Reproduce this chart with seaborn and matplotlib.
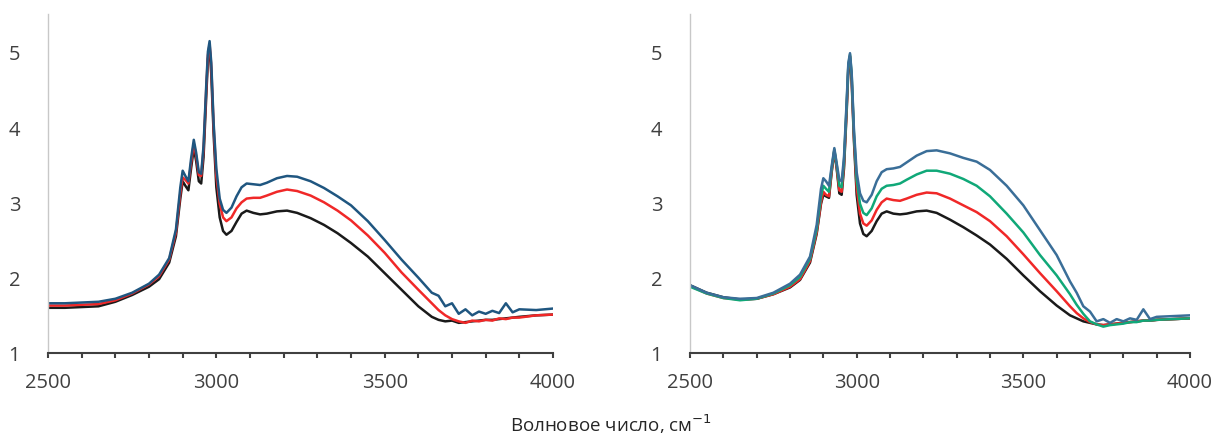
import numpy as np
import pandas as pd
import matplotlib
matplotlib.use("Agg")
import matplotlib.pyplot as plt
from matplotlib.ticker import MultipleLocator
import seaborn as sns

wavenumber = [2500, 2550, 2600, 2650, 2700, 2750, 2800, 2830, 2860, 2880, 2893, 2900, 2908, 2917,
              2925, 2933, 2940, 2948, 2955, 2962, 2970, 2975, 2980, 2985, 2992, 3000, 3010, 3020,
              3030, 3045, 3060, 3075, 3090, 3110, 3130, 3150, 3180, 3210, 3240, 3280, 3320, 3360,
              3400, 3450, 3500, 3550, 3600, 3640, 3660, 3680, 3700, 3720, 3740, 3760, 3780, 3800,
              3820, 3840, 3860, 3880, 3900, 3950, 4000]

left_black = [1.60, 1.60, 1.61, 1.62, 1.68, 1.77, 1.88, 1.98, 2.20, 2.55, 3.05, 3.28, 3.22, 3.16,
              3.45, 3.72, 3.55, 3.28, 3.25, 3.60, 4.40, 4.90, 5.05, 4.70, 3.90, 3.20, 2.80, 2.62,
              2.57, 2.62, 2.74, 2.85, 2.89, 2.86, 2.84, 2.85, 2.88, 2.89, 2.86, 2.79, 2.70, 2.59,
              2.46, 2.28, 2.06, 1.84, 1.62, 1.48, 1.44, 1.42, 1.43, 1.40, 1.41, 1.42, 1.43, 1.44,
              1.44, 1.45, 1.46, 1.47, 1.48, 1.50, 1.51]
left_red = [1.63, 1.63, 1.64, 1.65, 1.70, 1.79, 1.91, 2.02, 2.24, 2.60, 3.12, 3.33, 3.30, 3.25,
            3.52, 3.78, 3.62, 3.36, 3.35, 3.70, 4.50, 4.95, 5.10, 4.80, 4.00, 3.35, 2.98, 2.80,
            2.75, 2.80, 2.92, 3.00, 3.05, 3.06, 3.06, 3.09, 3.14, 3.17, 3.15, 3.09, 3.00, 2.89,
            2.76, 2.56, 2.33, 2.07, 1.84, 1.66, 1.57, 1.50, 1.45, 1.42, 1.40, 1.43, 1.42, 1.44,
            1.43, 1.46, 1.45, 1.47, 1.47, 1.50, 1.51]
left_blue = [1.66, 1.66, 1.67, 1.68, 1.72, 1.80, 1.92, 2.04, 2.26, 2.64, 3.20, 3.42, 3.35, 3.28,
             3.58, 3.83, 3.66, 3.40, 3.38, 3.75, 4.55, 5.00, 5.14, 4.85, 4.05, 3.45, 3.05, 2.90,
             2.86, 2.93, 3.08, 3.20, 3.25, 3.24, 3.23, 3.26, 3.32, 3.35, 3.34, 3.28, 3.19, 3.08,
             2.96, 2.75, 2.50, 2.24, 2.00, 1.80, 1.76, 1.62, 1.66, 1.52, 1.58, 1.50, 1.55, 1.52,
             1.56, 1.53, 1.66, 1.54, 1.58, 1.57, 1.59]

right_black = [1.90, 1.80, 1.74, 1.71, 1.72, 1.78, 1.87, 1.97, 2.20, 2.58, 2.98, 3.10, 3.08, 3.06,
               3.40, 3.68, 3.45, 3.12, 3.10, 3.45, 4.20, 4.75, 4.92, 4.60, 3.80, 3.10, 2.72, 2.58,
               2.55, 2.62, 2.75, 2.85, 2.88, 2.85, 2.84, 2.85, 2.88, 2.89, 2.86, 2.77, 2.67, 2.56,
               2.44, 2.25, 2.03, 1.82, 1.63, 1.50, 1.46, 1.42, 1.40, 1.38, 1.37, 1.38, 1.39, 1.40,
               1.41, 1.42, 1.43, 1.43, 1.44, 1.45, 1.46]
right_red = [1.89, 1.79, 1.73, 1.71, 1.72, 1.78, 1.88, 1.98, 2.22, 2.60, 3.00, 3.14, 3.10, 3.08,
             3.42, 3.69, 3.47, 3.16, 3.14, 3.50, 4.25, 4.80, 4.94, 4.65, 3.85, 3.20, 2.85, 2.72,
             2.69, 2.76, 2.90, 3.00, 3.05, 3.03, 3.02, 3.05, 3.10, 3.13, 3.12, 3.05, 2.96, 2.87,
             2.75, 2.55, 2.31, 2.06, 1.82, 1.62, 1.53, 1.46, 1.41, 1.38, 1.37, 1.38, 1.39, 1.40,
             1.41, 1.42, 1.43, 1.43, 1.44, 1.45, 1.46]
right_green = [1.88, 1.79, 1.73, 1.70, 1.72, 1.79, 1.90, 2.01, 2.25, 2.64, 3.08, 3.22, 3.18, 3.14,
               3.45, 3.70, 3.50, 3.22, 3.20, 3.55, 4.30, 4.82, 4.96, 4.70, 3.90, 3.30, 2.98, 2.86,
               2.83, 2.92, 3.08, 3.18, 3.22, 3.23, 3.25, 3.30, 3.37, 3.42, 3.42, 3.38, 3.31, 3.22,
               3.08, 2.85, 2.60, 2.30, 2.03, 1.78, 1.64, 1.52, 1.42, 1.38, 1.35, 1.37, 1.38, 1.39,
               1.41, 1.41, 1.43, 1.43, 1.44, 1.45, 1.46]
right_blue = [1.90, 1.80, 1.74, 1.72, 1.73, 1.80, 1.92, 2.04, 2.28, 2.70, 3.18, 3.32, 3.28, 3.22,
              3.48, 3.72, 3.52, 3.30, 3.28, 3.60, 4.35, 4.85, 4.98, 4.72, 3.95, 3.40, 3.12, 3.02,
              3.00, 3.10, 3.28, 3.40, 3.44, 3.45, 3.47, 3.53, 3.62, 3.68, 3.69, 3.65, 3.59, 3.54,
              3.43, 3.22, 2.96, 2.63, 2.30, 1.95, 1.80, 1.62, 1.55, 1.42, 1.45, 1.40, 1.45, 1.42,
              1.46, 1.44, 1.58, 1.45, 1.48, 1.49, 1.50]

x_ticks = [2500, 3000, 3500, 4000]
y_ticks = [1, 2, 3, 4, 5]
x_label = "Волновое число, см$^{-1}$"

sns.set_style("white")
plt.rcParams["font.family"] = ["Open Sans", "DejaVu Sans"]

W, H = 1222, 439
fig = plt.figure(figsize=(W / 100, H / 100), dpi=100)
axL = fig.add_axes([48 / W, (H - 354) / H, 505 / W, (354 - 15) / H])
axR = fig.add_axes([690 / W, (H - 354) / H, 500 / W, (354 - 15) / H])

panels = [
    (axL, [(left_black, "#1a1a1a"), (left_red, "#f02828"), (left_blue, "#1f5680")]),
    (axR, [(right_black, "#1a1a1a"), (right_red, "#f02828"), (right_green, "#10a878"),
           (right_blue, "#3a6e98")]),
]

for ax, series in panels:
    for vals, col in series:
        df = pd.DataFrame({"x": wavenumber, "y": vals})
        sns.lineplot(data=df, x="x", y="y", ax=ax, color=col, linewidth=1.8,
                     estimator=None, sort=False)
    ax.set_xlim(2500, 4000)
    ax.set_ylim(1, 5.5)
    ax.set_xticks(x_ticks)
    ax.set_yticks(y_ticks)
    ax.xaxis.set_minor_locator(MultipleLocator(100))
    ax.set_xlabel("")
    ax.set_ylabel("")
    for s in ["top", "right"]:
        ax.spines[s].set_visible(False)
    ax.spines["left"].set_color("#c8c8c8")
    ax.spines["left"].set_linewidth(1.0)
    ax.spines["bottom"].set_color("#404040")
    ax.spines["bottom"].set_linewidth(1.5)
    ax.tick_params(axis="x", which="both", direction="out", length=3.5, width=1.5,
                   color="#404040", bottom=True, pad=10, labelsize=14.5, labelcolor="#404040")
    ax.tick_params(axis="y", length=0, pad=20, labelsize=14.5, labelcolor="#404040")
    ax.set_facecolor("none")

fig.text(611 / W, 1 - 424 / H, x_label, ha="center", va="center", fontsize=13.5, color="#262626")

fig.savefig("out.png", dpi=100, facecolor="white")
